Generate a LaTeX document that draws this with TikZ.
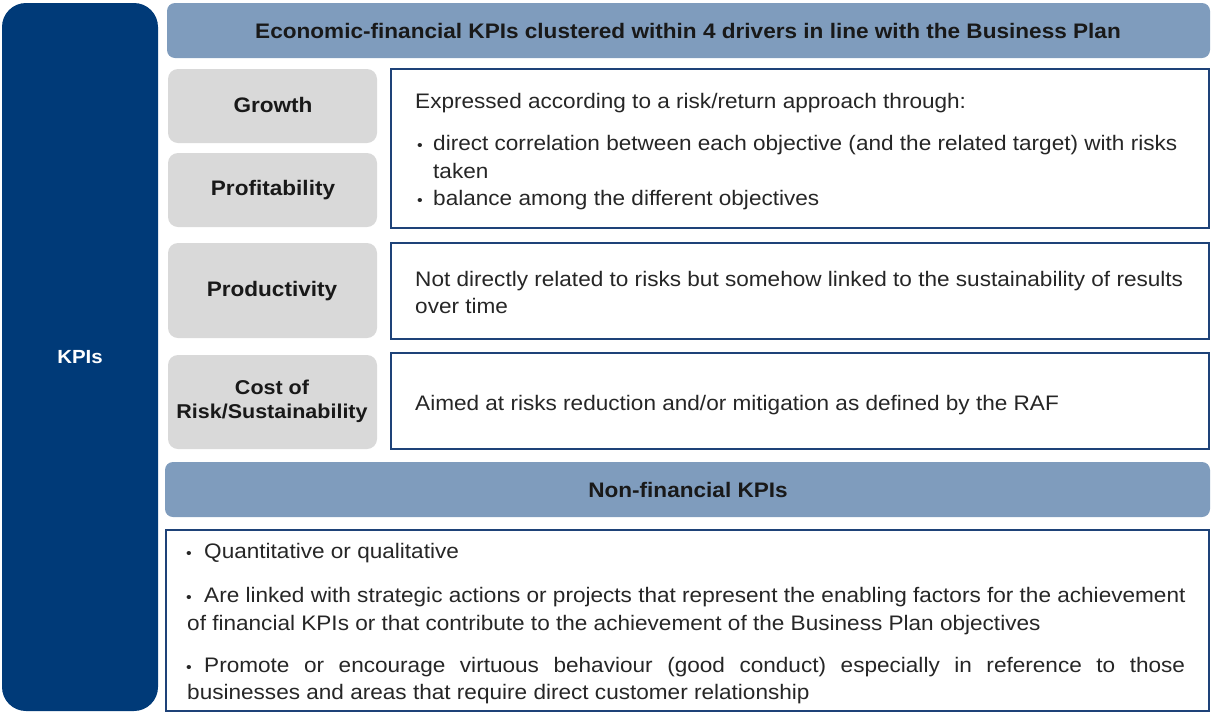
\documentclass[tikz,border=0pt]{standalone}
\usepackage{fontspec}
\setmainfont[FakeStretch=1.075]{Liberation Sans}
\definecolor{navy}{HTML}{003A78}
\definecolor{bar}{HTML}{7F9CBD}
\definecolor{lgray}{HTML}{D9D9D9}
\definecolor{boxline}{HTML}{1E4278}
\definecolor{txt}{HTML}{262626}
\begin{document}
\begin{tikzpicture}[x=1pt,y=-1pt,
  navybox/.style={fill=navy,draw=none,rounded corners=24pt},
  barbox/.style={fill=bar,draw=none,rounded corners=8pt},
  graybox/.style={fill=lgray,draw=none,rounded corners=10pt},
  textbox/.style={fill=white,draw=boxline,line width=2pt},
  title/.style={font=\fontsize{21}{24}\selectfont\bfseries,text=black!90,align=center,inner sep=0pt},
  body/.style={font=\fontsize{21}{28}\selectfont,text=txt,anchor=base west,inner sep=0pt},
  bul/.style={font=\fontsize{15}{16}\selectfont,text=txt,anchor=base west,inner sep=0pt}]
\useasboundingbox (0,0) rectangle (1213,713);
% frames
\fill[navybox] (2,3) rectangle (158,711);
\fill[barbox] (167,3) rectangle (1210,58);
\fill[graybox] (168,69) rectangle (377,143);
\fill[graybox] (168,153) rectangle (377,227);
\fill[graybox] (168,243) rectangle (377,338);
\fill[graybox] (168,355) rectangle (377,449);
\draw[textbox] (391,69) rectangle (1209,228);
\draw[textbox] (391,243) rectangle (1209,339);
\draw[textbox] (391,353) rectangle (1209,449);
\fill[barbox] (165,462) rectangle (1210,517);
\draw[textbox] (166,530) rectangle (1209,711);
% titles
\node[title,text=white,font=\fontsize{19}{23}\selectfont\bfseries] (kpis) at (80,357) {KPIs};
\node[title] (head) at (688,31) {Economic-financial KPIs clustered within 4 drivers in line with the Business Plan};
\node[title] (growth) at (273,105) {Growth};
\node[title] (profit) at (273,190) {Profitability};
\node[title] (prod) at (272,291) {Productivity};
\node[title,font=\fontsize{20}{24}\selectfont\bfseries] (cost) at (272,401) {Cost of\\Risk/Sustainability};
\node[title] (nonfin) at (688,490) {Non-financial KPIs};
% box 1
\node[body] (e1) at (415,108) {Expressed according to a risk/return approach through:};
\node[bul] (b1) at (417,150) {•};
\node[body] (e2) at (433,150) {direct correlation between each objective (and the related target) with risks};
\node[body] (e3) at (433,178) {taken};
\node[bul] (b2) at (417,205) {•};
\node[body] (e4) at (433,205) {balance among the different objectives};
% box 2
\node[body] (p1) at (415,286) {Not directly related to risks but somehow linked to the sustainability of results};
\node[body] (p2) at (415,313) {over time};
% box 3
\node[body] (c1) at (415,410) {Aimed at risks reduction and/or mitigation as defined by the RAF};
% bottom box
\node[bul] (n0) at (186,558) {•};
\node[body] (n1) at (204,558) {Quantitative or qualitative};
\node[bul] (n2b) at (186,602) {•};
\node[body] (n2) at (204,602) {Are linked with strategic actions or projects that represent the enabling factors for the achievement};
\node[body] (n3) at (187,630) {of financial KPIs or that contribute to the achievement of the Business Plan objectives};
\node[bul] (n4b) at (186,672) {•};
\node[body] (n4) at (204,672) {\makebox[981pt][s]{Promote or encourage virtuous behaviour (good conduct) especially in reference to those}};
\node[body] (n5) at (187,699) {businesses and areas that require direct customer relationship};
\end{tikzpicture}
\end{document}
